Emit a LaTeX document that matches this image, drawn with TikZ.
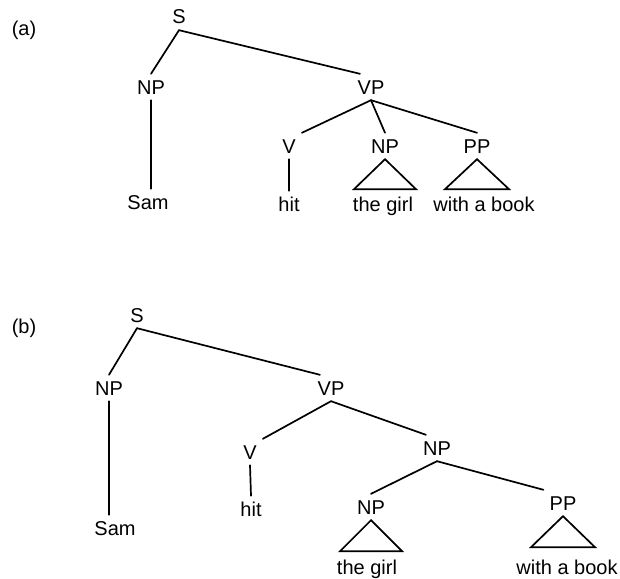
\documentclass[tikz,border=0pt]{standalone}
\usepackage{fontspec}
\setmainfont{Liberation Sans}
\usepackage{tikz}
\tikzstyle{cat} = [inner sep=6pt, text height=14pt, text depth=0pt]
\tikzstyle{word} = [inner sep=6pt, text height=14pt, text depth=0pt]
\tikzstyle{branch} = [line width=1.7pt, line cap=round]
\tikzstyle{roof} = [line width=1.7pt, line join=miter]

\begin{document}
\begin{tikzpicture}[x=1pt, y=-1pt, font=\fontsize{20}{24}\selectfont]
\useasboundingbox (0,0) rectangle (620,578);

% Tree (a)
\node (taga) at (24,30) {(a)};
\node (Sa) [cat] at (179,17) {S};
\node (NPa) [cat] at (151,87) {NP};
\node (VPa) [cat] at (371,87) {VP};
\node (Va) [cat] at (289,146) {V};
\node (NPa2) [cat] at (385,146) {NP};
\node (PPa) [cat] at (477,146) {PP};
\node (Sama) [word] at (148,202) {Sam};
\node (hita) [word] at (289,204) {hit};
\node (girla) [word] at (383,204) {the girl};
\node (booka) [word] at (484,204) {with a book};

% Branches (a)
\draw [branch] (Sa.south) -- (NPa.north);
\draw [branch] (Sa.south) -- (VPa.130);
\draw [branch] (NPa.south) -- (NPa.south |- Sama.north);
\draw [branch] (VPa.south) -- (Va.north east);
\draw [branch] (VPa.south) -- (NPa2.north);
\draw [branch] (VPa.south) -- (PPa.north);
\draw [branch] (Va.south) -- (hita.north);
\draw [roof] (NPa2.south) -- ++(-31,30) -- ++(62,0) -- cycle;
\draw [roof] (PPa.south) -- ++(-32,30) -- ++(64,0) -- cycle;

% Tree (b)
\node (tagb) at (24,328) {(b)};
\node (Sb) [cat] at (137,315) {S};
\node (NPb) [cat] at (109,388) {NP};
\node (VPb) [cat] at (331,388) {VP};
\node (Vb) [cat] at (250,452) {V};
\node (NPb2) [cat] at (437,448) {NP};
\node (Samb) [word] at (115,528) {Sam};
\node (hitb) [word] at (251,509) {hit};
\node (NPb3) [cat] at (371,507) {NP};
\node (PPb) [cat] at (563,503) {PP};
\node (girlb) [word] at (367,567) {the girl};
\node (bookb) [word] at (567,567) {with a book};

% Branches (b)
\draw [branch] (Sb.south) -- (NPb.north);
\draw [branch] (Sb.south) -- (VPb.130);
\draw [branch] (NPb.south) -- (NPb.south |- Samb.north);
\draw [branch] (VPb.south) -- (Vb.north east);
\draw [branch] (VPb.south) -- (NPb2.130);
\draw [branch] (Vb.south) -- (hitb.north);
\draw [branch] (NPb2.south) -- (NPb3.north);
\draw [branch] (NPb2.south) -- (PPb.north west);
\draw [roof] (NPb3.south) -- ++(-31,31) -- ++(62,0) -- cycle;
\draw [roof] (PPb.south) -- ++(-32,31) -- ++(64,0) -- cycle;

\end{tikzpicture}
\end{document}
